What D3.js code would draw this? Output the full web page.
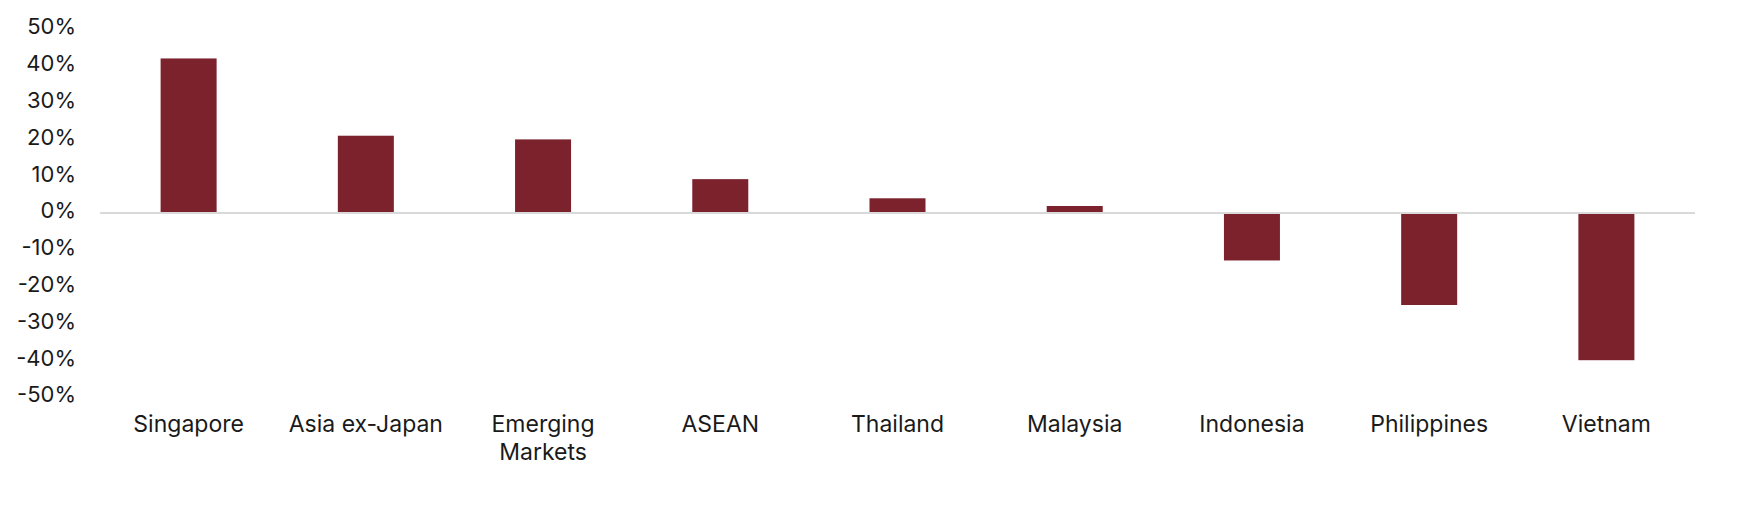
<!DOCTYPE html>
<html lang="en">
<head>
    <meta charset="UTF-8">
    <title>Returns by market</title>
    <script src="https://d3js.org/d3.v7.min.js"></script>
    <style>
        body { margin: 0; background: #fff; }
        .tick text, .cat text {
            font-family: Inter, "Noto Sans", sans-serif;
            fill: #1a1a1a;
        }
        .tick text { font-size: 22px; }
        .cat text { font-size: 23px; }
        .bar { fill: #7b222d; }
        .zero { stroke: #d9d9d9; stroke-width: 2px; }
    </style>
</head>
<body>
    <script>
        // data (percent)
        const categories = ["Singapore", "Asia ex-Japan", "Emerging Markets", "ASEAN", "Thailand",
            "Malaysia", "Indonesia", "Philippines", "Vietnam"];
        const values = [42, 21, 20, 9.2, 4, 1.9, -12.9, -25, -40];
        const yTicks = [50, 40, 30, 20, 10, 0, -10, -20, -30, -40, -50];

        const width = 1746;
        const height = 514;

        const svg = d3.select("body")
            .append("svg")
            .attr("width", width)
            .attr("height", height);

        const x = d3.scaleBand()
            .domain(categories)
            .range([100, 1695])
            .paddingInner(0.684)
            .paddingOuter(0.342);

        const y = d3.scaleLinear()
            .domain([-50, 50])
            .range([397, 29]);

        // y axis labels, no line
        const yAxis = svg.append("g")
            .attr("transform", "translate(76,-3)")
            .call(d3.axisLeft(y).tickValues(yTicks).tickSize(0).tickPadding(0)
                .tickFormat(d => d + "%"));
        yAxis.select(".domain").remove();
        yAxis.selectAll("text").attr("dy", "0.36em");

        // bars
        svg.selectAll(".bar")
            .data(values)
            .enter()
            .append("rect")
            .attr("class", "bar")
            .attr("x", (d, i) => x(categories[i]))
            .attr("width", x.bandwidth())
            .attr("y", d => y(Math.max(0, d)))
            .attr("height", d => Math.abs(y(d) - y(0)));

        // zero line
        svg.append("line")
            .attr("class", "zero")
            .attr("x1", 100)
            .attr("x2", 1695)
            .attr("y1", y(0))
            .attr("y2", y(0));

        // category labels (wrap two-word long names)
        const cat = svg.append("g").attr("class", "cat");
        categories.forEach(c => {
            const lines = c === "Emerging Markets" ? ["Emerging", "Markets"] : [c];
            const t = cat.append("text")
                .attr("text-anchor", "middle")
                .attr("x", x(c) + x.bandwidth() / 2)
                .attr("y", 432);
            lines.forEach((l, k) => {
                t.append("tspan")
                    .attr("x", x(c) + x.bandwidth() / 2)
                    .attr("dy", k === 0 ? 0 : 28)
                    .text(l);
            });
        });
    </script>
</body>
</html>
